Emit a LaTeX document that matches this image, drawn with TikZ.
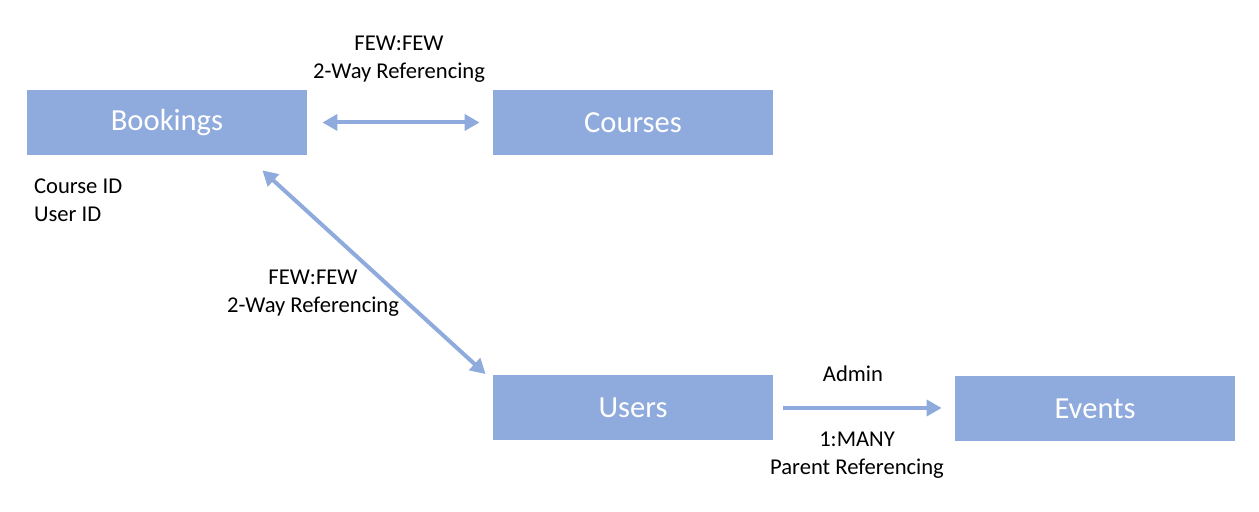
\documentclass[tikz,border=0pt]{standalone}
\usepackage{fontspec}
\setmainfont{Carlito}
\usetikzlibrary{arrows.meta}
\definecolor{boxblue}{HTML}{8FAADC}
\begin{document}
\begin{tikzpicture}[x=0.5pt,y=-0.5pt,>={Triangle[length=7.5pt,width=8pt]},
	entity/.style={fill=boxblue,text=white,minimum width=140pt,minimum height=32.5pt,inner sep=0pt,font=\fontsize{15.3}{18}\selectfont},
	link/.style={draw=boxblue,line width=2pt},
	lbl/.style={align=center,font=\fontsize{11.3}{14}\selectfont}]
			\useasboundingbox (0,0) rectangle (1259,512);
			\node[entity] (bookings) at (167,122.5) {Bookings};
			\node[entity] (courses) at (633,123) {Courses};
			\node[entity] (users) at (633,408) {Users};
			\node[entity] (events) at (1095,409) {Events};
			\draw[link,<->,shorten <=7.5pt,shorten >=6.5pt] (bookings.east)--(bookings.east -| courses.west);
			\draw[link,<->] ([shift={(-45,15)}]bookings.south east)--([shift={(-7,-1)}]users.north west);
			\draw[link,->,shorten <=5pt,shorten >=6.5pt] (users.east)--(users.east -| events.west);
			\node[lbl] (ff1) at (399,59) {FEW:FEW\\2-Way Referencing};
			\node[lbl] (ff2) at (313,293) {FEW:FEW\\2-Way Referencing};
			\node[lbl,align=left,anchor=west] (ids) at (27,200) {Course ID\\User ID};
			\node[lbl] (admin) at (853,374) {Admin};
			\node[lbl] (many) at (857,455) {1:MANY\\Parent Referencing};
	\end{tikzpicture}
\end{document}
